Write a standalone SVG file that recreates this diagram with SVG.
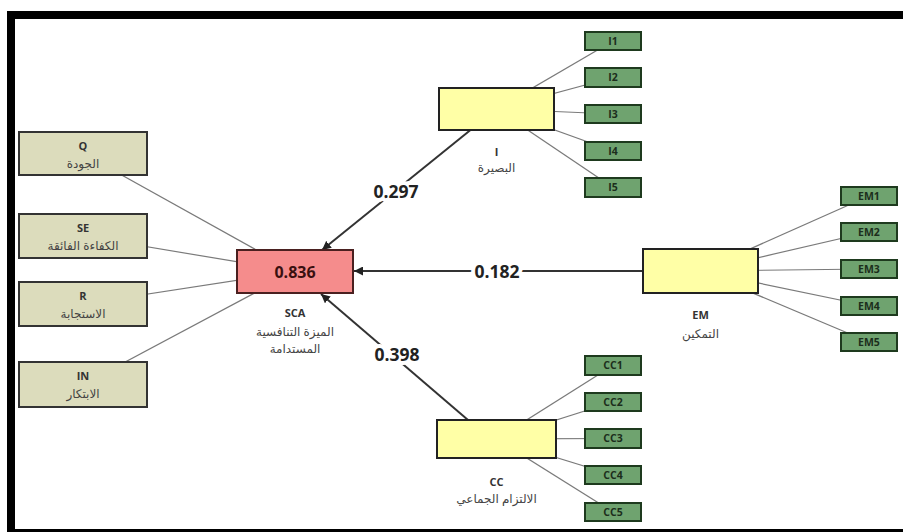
<svg xmlns="http://www.w3.org/2000/svg" width="903" height="532" viewBox="0 0 903 532">
<defs>
<style>
.frame{fill:#000}
.ln{stroke:#7a7a7a;stroke-width:1.2;fill:none}
.path{stroke:#333;stroke-width:2;fill:none}
.ind{fill:#dcdcbc;stroke:#333;stroke-width:2}
.grn{fill:#6fa36f;stroke:#1e3a1e;stroke-width:2}
.lat{fill:#ffffa6;stroke:#222;stroke-width:2}
.sca{fill:#f58c8c;stroke:#4a2020;stroke-width:2}
.t{font-family:"Open Sans","DejaVu Sans",sans-serif;fill:#333;text-anchor:middle}
.tb{font-weight:bold;font-size:11px}
.ar{font-family:"Noto Sans","DejaVu Sans",sans-serif;font-size:12px;fill:#444;text-anchor:middle}
.gt{font-family:"Open Sans","DejaVu Sans",sans-serif;font-size:10.5px;font-weight:bold;fill:#1c2e1c;text-anchor:middle}
.coef{font-family:"Open Sans","DejaVu Sans",sans-serif;font-size:17.5px;font-weight:bold;fill:#222;text-anchor:middle;stroke:#fff;stroke-width:8;paint-order:stroke;stroke-linejoin:round}
</style>
<marker id="arr" viewBox="0 0 10 10" refX="10" refY="5" markerWidth="9" markerHeight="9" markerUnits="userSpaceOnUse" orient="auto">
<path d="M0,0 L10,5 L0,10 z" fill="#222"/>
</marker>
</defs>
<rect width="903" height="532" fill="#fff"/>
<g id="frame">
<rect class="frame" x="7" y="11" width="896" height="8"/>
<rect class="frame" x="7" y="11" width="8" height="521"/>
<rect class="frame" x="7" y="529" width="896" height="3"/>
</g>
<g id="connectors">
<line class="ln" x1="83" y1="153.5" x2="295" y2="271.5"/>
<line class="ln" x1="83" y1="236" x2="295" y2="271.5"/>
<line class="ln" x1="83" y1="304" x2="295" y2="271.5"/>
<line class="ln" x1="83" y1="384.5" x2="295" y2="271.5"/>
<line class="ln" x1="496.5" y1="109" x2="613" y2="41"/>
<line class="ln" x1="496.5" y1="109" x2="613" y2="77.5"/>
<line class="ln" x1="496.5" y1="109" x2="613" y2="114"/>
<line class="ln" x1="496.5" y1="109" x2="613" y2="151"/>
<line class="ln" x1="496.5" y1="109" x2="613" y2="187.5"/>
<line class="ln" x1="700.5" y1="271" x2="869" y2="196"/>
<line class="ln" x1="700.5" y1="271" x2="869" y2="232"/>
<line class="ln" x1="700.5" y1="271" x2="869" y2="269"/>
<line class="ln" x1="700.5" y1="271" x2="869" y2="306"/>
<line class="ln" x1="700.5" y1="271" x2="869" y2="342"/>
<line class="ln" x1="496.5" y1="439" x2="613" y2="365.5"/>
<line class="ln" x1="496.5" y1="439" x2="613" y2="402"/>
<line class="ln" x1="496.5" y1="439" x2="613" y2="438.5"/>
<line class="ln" x1="496.5" y1="439" x2="613" y2="475"/>
<line class="ln" x1="496.5" y1="439" x2="613" y2="512"/>
<line class="path" x1="470.5" y1="130" x2="322" y2="250" marker-end="url(#arr)"/>
<line class="path" x1="643" y1="271" x2="354" y2="271" marker-end="url(#arr)"/>
<line class="path" x1="468" y1="420" x2="321" y2="294" marker-end="url(#arr)"/>
<text class="coef" x="396" y="198">0.297</text>
<text class="coef" x="497" y="278">0.182</text>
<text class="coef" x="397" y="361">0.398</text>
</g>
<g id="Q"><rect class="ind" x="19" y="132" width="128" height="43"/><text class="t tb" x="83" y="150">Q</text><text class="ar" x="83" y="168">الجودة</text></g>
<g id="SE"><rect class="ind" x="19" y="214" width="128" height="44"/><text class="t tb" x="83" y="232">SE</text><text class="ar" x="83" y="250">الكفاءة الفائقة</text></g>
<g id="R"><rect class="ind" x="19" y="282" width="128" height="44"/><text class="t tb" x="83" y="300">R</text><text class="ar" x="83" y="318">الاستجابة</text></g>
<g id="IN"><rect class="ind" x="19" y="362" width="128" height="45"/><text class="t tb" x="83" y="380">IN</text><text class="ar" x="83" y="398">الابتكار</text></g>
<g id="SCA"><rect class="sca" x="237" y="250" width="116" height="43"/><text x="295" y="278" font-family="'Open Sans','DejaVu Sans',sans-serif" font-size="16" font-weight="bold" fill="#3a1010" text-anchor="middle">0.836</text><text class="t tb" x="295" y="317">SCA</text><text class="ar" x="295" y="336">الميزة التنافسية</text><text class="ar" x="295" y="353">المستدامة</text></g>
<g id="I"><rect class="lat" x="439" y="88" width="115" height="42"/><text class="t tb" x="496.5" y="156">I</text><text class="ar" x="496.5" y="172">البصيرة</text></g>
<g id="EM"><rect class="lat" x="643" y="249" width="115" height="44"/><text class="t tb" x="700.5" y="319">EM</text><text class="ar" x="700.5" y="338">التمكين</text></g>
<g id="CC"><rect class="lat" x="437" y="420" width="119" height="38"/><text class="t tb" x="496.5" y="486">CC</text><text class="ar" x="496.5" y="503">الالتزام الجماعي</text></g>
<g id="I1"><rect class="grn" x="585" y="32" width="56" height="18"/><text class="gt" x="613" y="45">I1</text></g>
<g id="I2"><rect class="grn" x="585" y="68" width="56" height="19"/><text class="gt" x="613" y="81">I2</text></g>
<g id="I3"><rect class="grn" x="585" y="105" width="56" height="18"/><text class="gt" x="613" y="118">I3</text></g>
<g id="I4"><rect class="grn" x="585" y="142" width="56" height="18"/><text class="gt" x="613" y="155">I4</text></g>
<g id="I5"><rect class="grn" x="585" y="178" width="56" height="19"/><text class="gt" x="613" y="191">I5</text></g>
<g id="EM1"><rect class="grn" x="841" y="187" width="56" height="18"/><text class="gt" x="869" y="200">EM1</text></g>
<g id="EM2"><rect class="grn" x="841" y="223" width="56" height="18"/><text class="gt" x="869" y="236">EM2</text></g>
<g id="EM3"><rect class="grn" x="841" y="260" width="56" height="18"/><text class="gt" x="869" y="273">EM3</text></g>
<g id="EM4"><rect class="grn" x="841" y="297" width="56" height="18"/><text class="gt" x="869" y="310">EM4</text></g>
<g id="EM5"><rect class="grn" x="841" y="333" width="56" height="18"/><text class="gt" x="869" y="346">EM5</text></g>
<g id="CC1"><rect class="grn" x="585" y="356" width="56" height="19"/><text class="gt" x="613" y="369">CC1</text></g>
<g id="CC2"><rect class="grn" x="585" y="393" width="56" height="18"/><text class="gt" x="613" y="406">CC2</text></g>
<g id="CC3"><rect class="grn" x="585" y="429" width="56" height="19"/><text class="gt" x="613" y="442">CC3</text></g>
<g id="CC4"><rect class="grn" x="585" y="466" width="56" height="18"/><text class="gt" x="613" y="479">CC4</text></g>
<g id="CC5"><rect class="grn" x="585" y="503" width="56" height="18"/><text class="gt" x="613" y="516">CC5</text></g>
</svg>
